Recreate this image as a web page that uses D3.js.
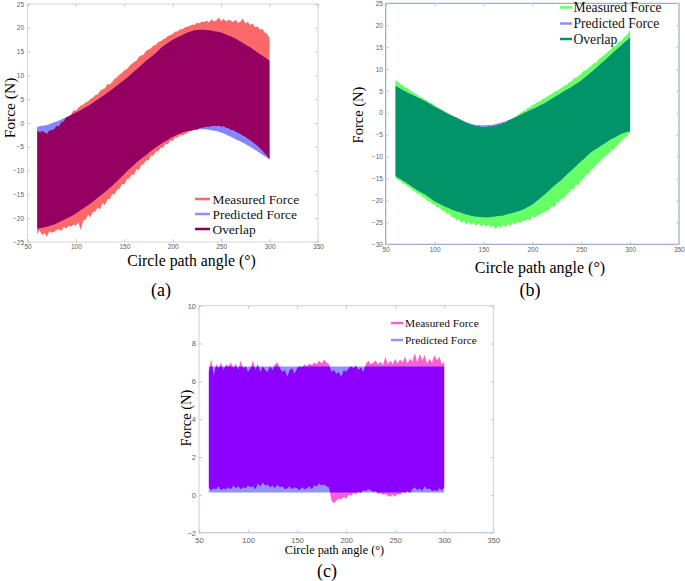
<!DOCTYPE html>
<html><head><meta charset="utf-8">
<script src="https://cdn.jsdelivr.net/npm/d3@7"></script>
<style>body{margin:0;background:#fff}svg{display:block}</style>
</head><body><svg id="chart" width="685" height="581"></svg>
<script>
// ---------- shared ----------
const xTicks = [50, 100, 150, 200, 250, 300, 350];
const measAngles = d3.range(60, 300.01, 2.5);   // sample grid of measured force (deg)
const predAngles = d3.range(60, 300.01, 5);     // sample grid of predicted force (deg)
const legendLabels = ["Measured Force", "Predicted Force", "Overlap"];

// ---------- panel (a) ----------
const aYTicks = [-25, -20, -15, -10, -5, 0, 5, 10, 15, 20, 25];
const aMeasUpper = [-1.5,-2.0,-1.7,-1.9,-2.3,-1.6,-1.5,-1.3,-0.6,-0.7,
  0.2,0.3,1.2,1.4,1.8,2.7,2.6,3.2,3.6,3.9,
  4.3,4.5,5.1,5.3,5.9,6.0,6.8,7.1,7.3,8.2,
  8.1,8.6,9.3,9.6,10.2,10.5,11.1,11.3,11.9,12.4,
  12.8,13.1,13.9,14.2,14.4,15.2,15.4,15.7,16.3,16.4,
  17.0,17.2,17.6,17.8,18.3,18.5,18.7,19.2,19.2,19.7,
  19.7,20.1,20.2,20.4,20.7,20.6,21.1,20.9,21.3,21.2,
  21.5,21.1,21.8,21.3,21.6,22.1,21.4,21.9,21.3,21.7,
  21.5,21.2,21.7,21.0,21.3,21.9,20.9,21.2,20.6,20.9,
  20.1,20.3,19.6,19.8,19.0,18.7,17.8];
const aMeasLower = [-23.3,-22.5,-23.6,-23.1,-23.9,-22.8,-23.0,-22.9,-22.5,-22.3,
  -22.7,-21.8,-22.2,-21.6,-21.8,-21.3,-21.6,-20.9,-22.5,-20.5,
  -20.3,-19.3,-19.8,-18.7,-18.6,-17.8,-18.1,-16.8,-17.3,-16.0,
  -16.0,-14.9,-15.0,-14.0,-13.8,-12.8,-12.9,-11.8,-11.7,-10.8,
  -10.9,-9.7,-9.9,-8.8,-8.6,-7.9,-7.8,-6.8,-6.9,-6.0,
  -6.0,-5.2,-5.2,-4.4,-4.4,-3.7,-3.8,-3.0,-3.1,-2.5,
  -2.6,-2.3,-2.1,-1.8,-1.7,-1.4,-1.4,-1.1,-1.0,-0.9,
  -0.8,-0.8,-0.7,-0.6,-0.7,-0.5,-0.8,-0.7,-1.0,-1.1,
  -1.4,-1.5,-1.8,-2.1,-2.3,-2.7,-2.9,-3.3,-3.6,-4.0,
  -4.4,-4.8,-5.3,-5.8,-6.4,-6.9,-7.7];
const aPredUpper = [-0.8,-0.6,-0.4,-0.05,0.3,0.75,1.2,1.7,2.2,2.7,
  3.3,3.9,4.6,5.3,6.0,6.7,7.5,8.3,9.1,9.9,
  10.8,11.7,12.6,13.5,14.3,15.2,16.1,16.8,17.5,18.0,
  18.5,19.0,19.35,19.55,19.6,19.55,19.4,19.2,19.0,18.6,
  18.2,17.7,17.1,16.5,15.9,15.2,14.5,13.8,13.1];
const aPredLower = [-22.2,-22.0,-21.8,-21.5,-21.1,-20.6,-20.1,-19.6,-19.0,-18.3,
  -17.6,-16.9,-16.1,-15.3,-14.5,-13.6,-12.7,-11.7,-10.7,-9.7,
  -8.8,-7.9,-7.1,-6.3,-5.5,-4.8,-4.1,-3.5,-2.9,-2.4,
  -2.0,-1.7,-1.5,-1.35,-1.3,-1.35,-1.5,-1.7,-2.0,-2.4,
  -2.9,-3.4,-3.9,-4.4,-5.0,-5.6,-6.3,-7.0,-7.6];

// ---------- panel (b) ----------
const bYTicks = [-30, -25, -20, -15, -10, -5, 0, 5, 10, 15, 20, 25];
const bMeasUpper = [7.5,7.1,6.5,6.3,5.8,5.6,5.0,4.9,4.3,4.2,
  3.6,3.5,3.0,2.9,2.3,2.2,1.7,1.4,1.0,0.8,
  0.4,0.1,-0.2,-0.5,-0.8,-1.0,-1.3,-1.7,-1.9,-2.2,
  -2.5,-2.8,-2.9,-3.1,-3.0,-3.3,-3.2,-3.3,-3.0,-3.2,
  -2.9,-3.0,-2.6,-2.7,-2.3,-2.3,-1.8,-1.5,-1.1,-0.9,
  -0.5,-0.1,0.3,0.5,1.1,1.3,1.8,2.0,2.5,2.6,
  3.1,3.4,3.7,4.1,4.3,4.8,5.0,5.4,5.7,6.2,
  6.4,6.9,7.2,7.9,8.0,8.5,8.9,9.6,9.7,10.3,
  10.7,11.3,11.4,12.2,12.6,13.1,13.5,14.0,14.4,15.1,
  15.2,16.1,16.3,16.9,17.5,18.0,18.9];
const bMeasLower = [-14.8,-15.3,-15.5,-16.1,-16.3,-16.9,-17.1,-17.7,-17.9,-18.5,
  -18.6,-19.3,-19.4,-20.1,-20.1,-20.8,-20.9,-21.6,-21.6,-22.3,
  -22.4,-23.1,-23.0,-23.8,-23.9,-24.6,-24.3,-25.1,-24.7,-25.4,
  -24.9,-25.6,-25.1,-25.8,-25.3,-25.9,-25.4,-26.0,-25.5,-26.2,
  -25.7,-26.6,-25.8,-26.3,-25.5,-26.1,-25.3,-25.9,-25.1,-25.6,
  -24.8,-25.2,-24.6,-24.7,-24.3,-24.6,-23.5,-24.0,-23.4,-23.3,
  -22.9,-22.6,-22.3,-22.1,-21.2,-21.6,-20.5,-20.3,-19.6,-19.5,
  -18.7,-18.2,-17.5,-17.4,-16.3,-16.6,-15.4,-14.9,-14.2,-13.9,
  -13.1,-12.6,-11.9,-11.5,-10.8,-10.3,-9.9,-9.4,-8.8,-8.4,
  -7.9,-7.3,-6.7,-6.1,-5.6,-5.2,-4.4];
const bPredUpper = [6.2,5.5,4.9,4.35,3.8,3.25,2.7,2.05,1.4,0.8,
  0.2,-0.35,-0.9,-1.4,-1.9,-2.3,-2.65,-2.8,-2.85,-2.8,
  -2.7,-2.45,-2.1,-1.7,-1.3,-0.75,-0.2,0.3,0.8,1.35,
  1.9,2.55,3.2,3.9,4.6,5.25,5.9,6.65,7.4,8.3,
  9.2,10.2,11.2,12.2,13.2,14.2,15.2,16.2,17.2];
const bPredLower = [-14.4,-15.1,-15.8,-16.55,-17.3,-17.95,-18.6,-19.4,-20.2,-20.75,
  -21.3,-21.8,-22.3,-22.65,-23.0,-23.3,-23.6,-23.7,-23.8,-23.8,
  -23.7,-23.55,-23.4,-23.1,-22.8,-22.45,-22.1,-21.5,-20.9,-20.0,
  -19.1,-18.1,-17.1,-16.15,-15.2,-14.15,-13.1,-12.05,-11.0,-10.0,
  -9.0,-8.25,-7.5,-6.8,-6.1,-5.5,-4.9,-4.5,-4.2];

// ---------- panel (c) ----------
const cYTicks = [-2, 0, 2, 4, 6, 8, 10];
const cMeasUpper = [6.5,7.2,6.3,6.9,6.7,7.0,6.6,6.9,6.8,7.0,
  6.7,6.95,6.6,7.1,6.7,6.8,6.5,6.7,7.1,6.6,
  6.95,6.5,6.8,6.6,6.5,6.8,6.6,6.9,7.0,6.7,
  6.5,6.6,6.25,6.6,6.7,6.4,6.7,6.8,6.75,6.9,
  6.8,6.95,6.85,7.0,6.9,7.1,6.95,7.15,7.0,6.9,
  6.5,6.6,6.4,6.5,6.25,6.6,6.5,6.7,6.8,6.7,
  6.85,6.6,6.75,6.5,6.9,7.1,6.9,7.0,7.1,6.9,
  7.05,6.85,7.3,6.9,7.1,6.9,7.2,6.95,7.15,7.0,
  7.3,6.95,7.2,7.05,7.5,7.0,7.45,7.1,7.4,6.95,
  7.2,7.0,7.4,7.1,7.3,6.9,7.05];
const cMeasLower = [0.4,0.25,0.35,0.3,0.45,0.25,0.35,0.3,0.4,0.3,
  0.5,0.35,0.45,0.3,0.4,0.35,0.5,0.4,0.45,0.3,
  0.6,0.45,0.65,0.5,0.55,0.4,0.5,0.35,0.55,0.4,
  0.45,0.3,0.35,0.45,0.3,0.4,0.35,0.25,0.4,0.3,
  0.35,0.45,0.3,0.5,0.45,0.6,0.5,0.55,0.45,0.4,
  -0.3,-0.45,-0.3,-0.2,-0.25,-0.1,-0.2,0.0,-0.05,0.1,
  0.05,0.15,0.1,0.25,0.2,0.3,0.25,0.15,0.2,0.05,
  0.1,0.0,0.05,-0.05,-0.1,0.0,-0.1,0.05,0.0,0.15,
  0.1,0.2,0.1,0.3,0.4,0.25,0.35,0.2,0.45,0.3,
  0.35,0.2,0.25,0.2,0.35,0.25,0.4];
const cPredAngles = [60, 300];
const cPredUpper = [6.78, 6.78];
const cPredLower = [0.12, 0.12];

// ---------- drawing ----------
const svg = d3.select("#chart");
const defs = svg.append("defs");
const SERIF = "'Liberation Serif','Times New Roman',serif";
const SANS = "'Liberation Sans',Arial,sans-serif";

function drawPanel(p) {
  const g = svg.append("g");
  const x = d3.scaleLinear().domain([50, 350]).range([p.left, p.right]);
  const y = d3.scaleLinear().domain(p.yDomain).range([p.bottom, p.top]);

  g.append("rect").attr("x", p.left).attr("y", p.top)
    .attr("width", p.right - p.left).attr("height", p.bottom - p.top)
    .attr("fill", "none").attr("stroke", p.boxColor).attr("stroke-width", 1);
  if (p.bottomLine) {
    g.append("line").attr("x1", p.left).attr("x2", p.right)
      .attr("y1", p.bottom).attr("y2", p.bottom)
      .attr("stroke", p.bottomLine).attr("stroke-width", 1);
  }

  const meas = p.mAngles.map((a, i) => ({a, lo: p.mLower[i], hi: p.mUpper[i]}));
  const pred = p.pAngles.map((a, i) => ({a, lo: p.pLower[i], hi: p.pUpper[i]}));
  const mArea = d3.area().x(d => x(d.a)).y0(d => y(d.lo)).y1(d => y(d.hi));
  const pArea = d3.area().curve(d3.curveMonotoneX)
    .x(d => x(d.a)).y0(d => y(d.lo)).y1(d => y(d.hi));

  defs.append("clipPath").attr("id", p.id + "-clip")
    .append("path").attr("d", mArea(meas));

  g.append("path").attr("d", mArea(meas)).attr("fill", p.mColor);
  g.append("path").attr("d", pArea(pred)).attr("fill", p.pColor);
  g.append("path").attr("d", pArea(pred)).attr("fill", p.oColor)
    .attr("clip-path", `url(#${p.id}-clip)`);

  const styleAxis = sel => {
    sel.select(".domain").remove();
    sel.selectAll(".tick line").attr("stroke", p.tickColor);
    sel.selectAll(".tick text").attr("fill", "#606060")
      .attr("font-family", SANS).attr("font-size", p.tickFont);
  };
  g.append("g").attr("transform", `translate(0,${p.bottom})`)
    .call(d3.axisBottom(x).tickValues(xTicks).tickSizeInner(-3).tickSizeOuter(0).tickPadding(p.xPad))
    .call(styleAxis);
  g.append("g").attr("transform", `translate(0,${p.top})`)
    .call(d3.axisTop(x).tickValues(xTicks).tickSizeInner(-3).tickSizeOuter(0).tickFormat(""))
    .call(styleAxis);
  g.append("g").attr("transform", `translate(${p.left},0)`)
    .call(d3.axisLeft(y).tickValues(p.yTicks).tickSizeInner(-3).tickSizeOuter(0).tickPadding(p.yPad))
    .call(styleAxis);
  g.append("g").attr("transform", `translate(${p.right},0)`)
    .call(d3.axisRight(y).tickValues(p.yTicks).tickSizeInner(-3).tickSizeOuter(0).tickFormat(""))
    .call(styleAxis);

  // axis titles
  g.append("text").attr("transform", `translate(${p.yLabel[0]},${p.yLabel[1]}) rotate(-90)`)
    .attr("text-anchor", "middle").attr("dominant-baseline", "central")
    .attr("font-family", SERIF).attr("font-size", p.yLabelFont).attr("fill", "#000")
    .text("Force (N)");
  g.append("text").attr("x", p.xLabel[0]).attr("y", p.xLabel[1])
    .attr("text-anchor", "middle").attr("font-family", SERIF)
    .attr("font-size", p.xLabelFont).attr("fill", "#000")
    .text("Circle path angle (\u00B0)");
  g.append("text").attr("x", p.tag[0]).attr("y", p.tag[1])
    .attr("text-anchor", "middle").attr("font-family", SERIF)
    .attr("font-size", 18).attr("fill", "#000").text(p.tagText);

  // legend
  const lg = g.append("g");
  p.legendColors.forEach((c, i) => {
    const yy = p.legend.y[i];
    lg.append("line").attr("x1", p.legend.x1).attr("x2", p.legend.x2)
      .attr("y1", yy).attr("y2", yy).attr("stroke", c).attr("stroke-width", 2.5);
    lg.append("text").attr("x", p.legend.tx).attr("y", yy)
      .attr("dominant-baseline", "central").attr("font-family", SERIF)
      .attr("font-size", p.legend.font).attr("fill", "#111").text(legendLabels[i]);
  });
}

drawPanel({
  id: "a", left: 27.5, right: 318, top: 4, bottom: 242,
  yDomain: [-25, 25], yTicks: aYTicks,
  mAngles: measAngles, mUpper: aMeasUpper, mLower: aMeasLower,
  pAngles: predAngles, pUpper: aPredUpper, pLower: aPredLower,
  mColor: "#ff6868", pColor: "#8585ff", oColor: "#950060",
  boxColor: "#d6d6d6", tickColor: "#c8c8c8", bottomLine: null,
  tickFont: 6.5, xPad: 2, yPad: 3.5,
  yLabel: [9, 108], yLabelFont: 15.5, xLabel: [191.5, 266], xLabelFont: 15.8,
  tag: [161, 296], tagText: "(a)",
  legendColors: ["#ff6868", "#8f8fff", "#8b0050"],
  legend: {x1: 195, x2: 210, tx: 212.5, y: [199, 214, 229], font: 13.4}
});

drawPanel({
  id: "b", left: 385.7, right: 679, top: 3.3, bottom: 244.3,
  yDomain: [-30, 25], yTicks: bYTicks,
  mAngles: measAngles, mUpper: bMeasUpper, mLower: bMeasLower,
  pAngles: predAngles, pUpper: bPredUpper, pLower: bPredLower,
  mColor: "#66ff66", pColor: "#8a8aff", oColor: "#009468",
  boxColor: "#7f9bc4", tickColor: "#c8c8c8", bottomLine: null,
  tickFont: 6.5, xPad: 3.5, yPad: 2.8,
  yLabel: [357.5, 115], yLabelFont: 14.5, xLabel: [540, 273], xLabelFont: 16,
  tag: [530, 296], tagText: "(b)",
  legendColors: ["#66ff66", "#8f8fff", "#009468"],
  legend: {x1: 560, x2: 572, tx: 573.5, y: [7.5, 23.5, 39], font: 13.6}
});

drawPanel({
  id: "c", left: 199, right: 493.3, top: 305.7, bottom: 532.7,
  yDomain: [-2, 10], yTicks: cYTicks,
  mAngles: measAngles, mUpper: cMeasUpper, mLower: cMeasLower,
  pAngles: cPredAngles, pUpper: cPredUpper, pLower: cPredLower,
  mColor: "#ff5fd6", pColor: "#9292ff", oColor: "#8c00ff",
  boxColor: "#d0d0d0", tickColor: "#c8c8c8", bottomLine: "#cbc3f2",
  tickFont: 7.5, xPad: 4.5, yPad: 3,
  yLabel: [185.5, 418], yLabelFont: 14.5, xLabel: [334.5, 554], xLabelFont: 12.2,
  tag: [327, 577], tagText: "(c)",
  legendColors: ["#ff5fd6", "#9292ff"],
  legend: {x1: 391, x2: 403, tx: 405, y: [323, 340], font: 11.4}
});
</script>
</body></html>
